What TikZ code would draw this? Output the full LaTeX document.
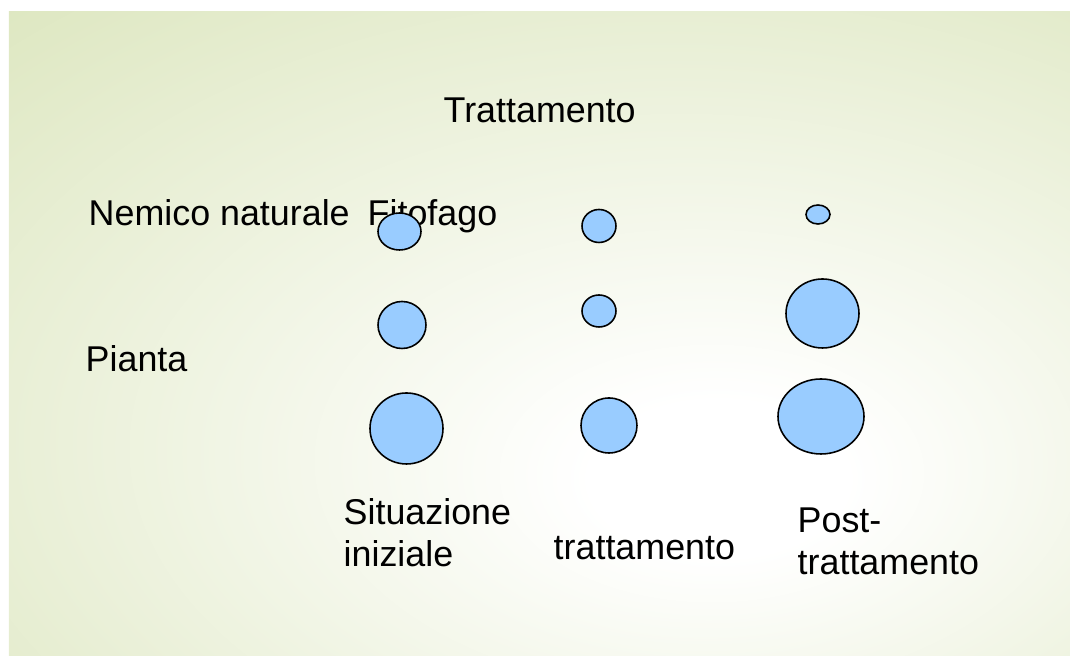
\documentclass[tikz,border=0pt]{standalone}
\usepackage{fontspec}
\setmainfont{Liberation Sans}
\usepackage{tikz}
\usetikzlibrary{shapes.geometric,positioning}

\definecolor{bggreen}{RGB}{220,230,190}
\definecolor{blobblue}{RGB}{153,204,255}
\pgfdeclareradialshading{bgshade}{\pgfpoint{9bp}{-12bp}}{color(0bp)=(white);color(6bp)=(white);color(46bp)=(bggreen);color(100bp)=(bggreen)}

\tikzset{
  blob/.style={ellipse,draw=black,line width=0.45pt,fill=blobblue,inner sep=0pt},
  lbl/.style={anchor=base west,inner sep=0pt,align=left,font=\fontsize{10.2}{12}\selectfont}
}

\begin{document}
\begin{tikzpicture}
\useasboundingbox (0,0) rectangle (10.70,-6.56);
\shade[shading=bgshade] (0.09,-0.12) rectangle (10.70,-6.56);

% labels
\node[lbl] (tratt) at (4.43,-1.23) {Trattamento};
\node[lbl] (nemico) at (0.88,-2.26) {Nemico naturale};
\node[lbl] (fito) at (3.67,-2.26) {Fitofago};
\node[lbl] (pianta) at (0.85,-3.72) {Pianta};
\node[lbl] (sit) at (3.43,-5.67) {Situazione\\iniziale};
\node[lbl] (durante) at (5.53,-5.60) {trattamento};
\node[lbl] (post) at (7.97,-5.75) {Post-\\trattamento};

% centres
\coordinate (N1) at (3.995,-2.315);
\coordinate (N2) at (5.99,-2.26);
\coordinate (N3) at (8.18,-2.145);
\coordinate (F1) at (4.02,-3.25);
\coordinate (F2) at (5.99,-3.11);
\coordinate (F3) at (8.225,-3.135);
\coordinate (P1) at (4.065,-4.285);
\coordinate (P2) at (6.09,-4.255);
\coordinate (P3) at (8.21,-4.165);

\node at (N1)[blob,minimum width=4.3mm,minimum height=3.7mm] (nem1) {};
\node at (N2)[blob,minimum width=3.4mm,minimum height=3.3mm] (nem2) {};
\node at (N3)[blob,minimum width=2.4mm,minimum height=1.9mm] (nem3) {};
\node at (F1)[blob,minimum width=4.8mm,minimum height=4.7mm] (fit1) {};
\node at (F2)[blob,minimum width=3.4mm,minimum height=3.2mm] (fit2) {};
\node at (F3)[blob,minimum width=7.3mm,minimum height=6.9mm] (fit3) {};
\node at (P1)[blob,minimum width=7.3mm,minimum height=7.1mm] (pia1) {};
\node at (P2)[blob,minimum width=5.6mm,minimum height=5.5mm] (pia2) {};
\node at (P3)[blob,minimum width=8.6mm,minimum height=7.5mm] (pia3) {};

\end{tikzpicture}
\end{document}
